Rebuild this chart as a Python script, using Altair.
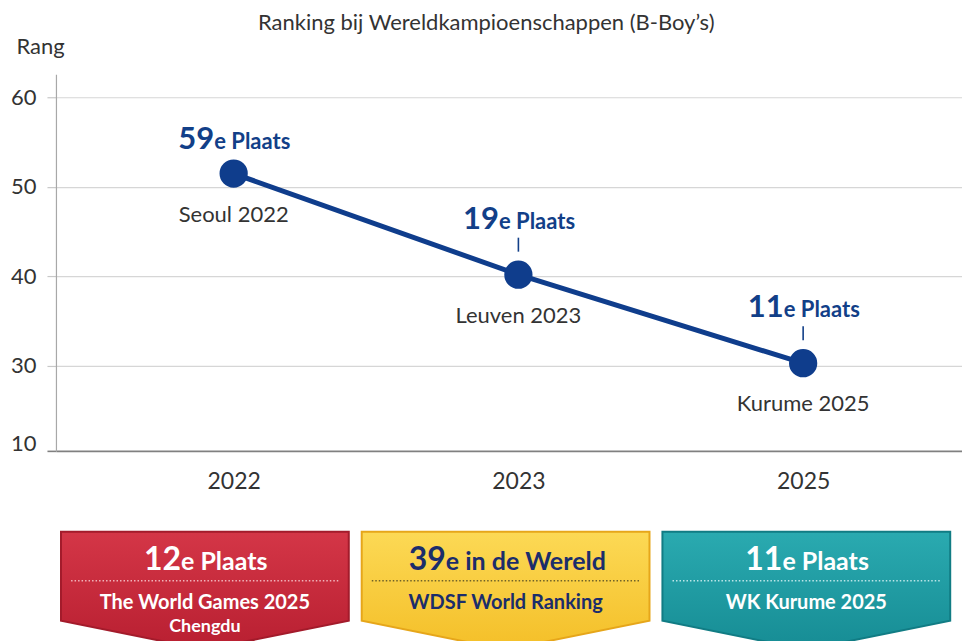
import altair as alt
import pandas as pd

# ------------------------- data -------------------------
years = ["2022", "2023", "2025"]
rank_position = [51.5, 40.2, 30.3]          # plotted height of each point (y axis "Rang")
rank_numbers = ["59", "19", "11"]
rank_suffix = ["e Plaats", "e Plaats", "e Plaats"]
places = ["Seoul 2022", "Leuven 2023", "Kurume 2025"]
has_leader = [False, True, True]

y_tick_values = [20.5, 30, 40, 50, 60]
y_tick_labels = ["10", "30", "40", "50", "60"]
y_domain = [20.5, 62.6]

banner_ids = ["red", "yellow", "teal"]
banner_numbers = ["12", "39", "11"]
banner_suffix = ["e Plaats", "e in de Wereld", "e Plaats"]
banner_line2 = ["The World Games 2025", "WDSF World Ranking", "WK Kurume 2025"]
banner_line3 = ["Chengdu", "", ""]

title_text = "Ranking bij Wereldkampioenschappen (B-Boy\u2019s)"

# ------------------------- styles -------------------------
FONT = "Lato"
TEXT = "#333333"
NAVY = "#0f3d8c"
LABEL_NAVY = "#123f88"
banner_top_col = ["#d43647", "#fcd955", "#2aaab0"]
banner_bot_col = ["#b81f31", "#f4bf28", "#168c94"]
banner_stroke = ["#a31b2b", "#e6a61a", "#117c84"]
banner_text = ["#ffffff", "#1b2d6b", "#ffffff"]
banner_dots = ["#f0b3bb", "#6f6128", "#bde6e8"]

CW = {"0": .58, "1": .58, "2": .58, "3": .58, "4": .58, "5": .58, "6": .58, "7": .58,
      "8": .58, "9": .58, " ": .2, "e": .53, "l": .26, "a": .51, "t": .35, "s": .42,
      "i": .26, "n": .56, "d": .57, "r": .37, "W": .96, "P": .62}


def text_w(s, size):
    return sum(CW.get(c, 0.64 if c.isupper() else 0.52) for c in s) * size


def split_dx(num, nsize, suf, ssize):
    wn, ws = text_w(num, nsize), text_w(suf, ssize)
    return -(wn + ws) / 2 + wn


W_TOP, H_TOP = 907, 377
W_BOT, H_BOT = 907, 122
BOT_TOP = 526  # page y where the banner panel starts (used to express offsets)


def bdy(page_y):
    return page_y - (BOT_TOP + H_BOT / 2)


# ------------------------- top chart -------------------------
df = pd.DataFrame({"year": years, "pos": rank_position, "num": rank_numbers,
                   "suf": rank_suffix, "place": places, "leader": has_leader})

label_expr = "".join(f"datum.value == {v} ? '{l}' : " for v, l in zip(y_tick_values, y_tick_labels)) + "datum.label"
low = f"datum.value < {y_tick_values[1]}"

base = alt.Chart(df).encode(
    x=alt.X("year:N", sort=years,
            scale=alt.Scale(type="point", padding=0.591, align=0.528),
            axis=alt.Axis(title=None, domain=False, ticks=False, grid=False, labelAngle=0,
                          labelFont=FONT, labelFontSize=23, labelColor=TEXT, labelPadding=20)),
    y=alt.Y("pos:Q", scale=alt.Scale(domain=y_domain, nice=False, zero=False),
            axis=alt.Axis(values=y_tick_values, labelExpr=label_expr, grid=True,
                          gridColor={"condition": {"test": low, "value": "#808080"}, "value": "#d6d6d6"},
                          gridWidth={"condition": {"test": low, "value": 1.6}, "value": 1.2},
                          tickColor={"condition": {"test": low, "value": "#808080"}, "value": "#c8c8c8"},
                          tickWidth={"condition": {"test": low, "value": 1.6}, "value": 1.2},
                          labelOffset={"condition": {"test": low, "value": -7}, "value": 0},
                          tickSize=9, domainColor="#a8a8a8", domainWidth=1.2,
                          labelFont=FONT, labelFontSize=22, labelColor=TEXT, labelPadding=11,
                          title="Rang", titleAngle=0, titleAlign="left", titleBaseline="alphabetic",
                          titleX=-40, titleY=-21, titleFont=FONT, titleFontSize=22,
                          titleFontWeight="normal", titleColor=TEXT)),
)

line = base.mark_line(color=NAVY, strokeWidth=5)
points = base.mark_circle(size=800, color=NAVY, opacity=1)
leaders = base.transform_filter("datum.leader").mark_point(
    shape="M0,-3.7 L0,-2.3", size=400, filled=False, stroke=LABEL_NAVY, strokeWidth=1.6, opacity=1)
place_labels = base.mark_text(dy=41, font=FONT, fontSize=22, color=TEXT, baseline="middle").encode(
    text="place:N")

rank_layers = []
for y_, n_, s_, lead in zip(years, rank_numbers, rank_suffix, has_leader):
    dx = split_dx(n_, 31, s_, 22)
    dy = -46 if lead else -25
    sub = base.transform_filter(f"datum.year == '{y_}'")
    rank_layers.append(sub.mark_text(align="right", baseline="alphabetic", dx=dx, dy=dy, font=FONT,
                                     fontSize=31, fontWeight="bold", color=LABEL_NAVY).encode(text="num:N"))
    rank_layers.append(sub.mark_text(align="left", baseline="alphabetic", dx=dx, dy=dy, font=FONT,
                                     fontSize=22, fontWeight="bold", color=LABEL_NAVY).encode(text="suf:N"))

top = alt.layer(line, points, leaders, place_labels, *rank_layers).properties(width=W_TOP, height=H_TOP)

# ------------------------- banners -------------------------
bdf = pd.DataFrame({"id": banner_ids, "num": banner_numbers, "suf": banner_suffix,
                    "l2": banner_line2, "l3": banner_line3})
p_in, p_out = 0.043, 0.028
step = W_BOT / (len(banner_ids) - p_in + 2 * p_out)
bw = step * (1 - p_in)
half = bw / 2
t_, s_b, tip = bdy(528) / half, bdy(617) / half, bdy(646) / half
banner_path = f"M-1,{t_:.4f} L1,{t_:.4f} L1,{s_b:.4f} L0,{tip:.4f} L-1,{s_b:.4f} Z"
d_ = bdy(577) / half
dots_path = f"M-0.93,{d_:.4f} L0.93,{d_:.4f}"

bbase = alt.Chart(bdf).encode(
    x=alt.X("id:N", sort=banner_ids,
            scale=alt.Scale(type="band", domain=banner_ids, paddingInner=p_in, paddingOuter=p_out,
                            align=0.3),
            axis=None))

banner_layers = []
for bid, n_, s_, tc, dc, c0, c1, sc in zip(banner_ids, banner_numbers, banner_suffix, banner_text,
                                           banner_dots, banner_top_col, banner_bot_col, banner_stroke):
    sub = bbase.transform_filter(f"datum.id == '{bid}'")
    dx = split_dx(n_, 32, s_, 25)
    grad = alt.LinearGradient(gradient="linear", x1=0, y1=0, x2=0, y2=1,
                              stops=[alt.GradientStop(offset=0, color=c0),
                                     alt.GradientStop(offset=1, color=c1)])
    banner_layers += [
        sub.mark_point(shape=banner_path, size=bw * bw, filled=True, fill=grad, stroke=sc,
                       strokeWidth=2, opacity=1, fillOpacity=1, strokeOpacity=1),
        sub.mark_point(shape=dots_path, size=bw * bw, filled=False, stroke=dc, strokeWidth=1.3,
                       strokeDash=[1.5, 2], opacity=1),
        sub.mark_text(align="right", baseline="alphabetic", dx=dx, dy=bdy(566), font=FONT, fontSize=32,
                      fontWeight="bold", color=tc).encode(text="num:N"),
        sub.mark_text(align="left", baseline="alphabetic", dx=dx, dy=bdy(566), font=FONT, fontSize=25,
                      fontWeight="bold", color=tc).encode(text="suf:N"),
        sub.mark_text(align="center", baseline="alphabetic", dy=bdy(605), font=FONT, fontSize=20,
                      fontWeight="bold", color=tc).encode(text="l2:N"),
        sub.mark_text(align="center", baseline="alphabetic", dy=bdy(628), font=FONT, fontSize=18,
                      fontWeight="bold", color=tc).encode(text="l3:N"),
    ]

bottom = alt.layer(*banner_layers).properties(width=W_BOT, height=H_BOT)

chart = alt.vconcat(top, bottom, spacing=34).properties(
    title=alt.TitleParams(title_text, font=FONT, fontSize=22, fontWeight="normal", color=TEXT,
                          anchor="middle", offset=0),
    padding={"left": 2, "top": 4, "right": 0, "bottom": 0},
).configure_view(stroke=None)

chart.save("out.html", embed_options={"renderer": "svg", "actions": False})
